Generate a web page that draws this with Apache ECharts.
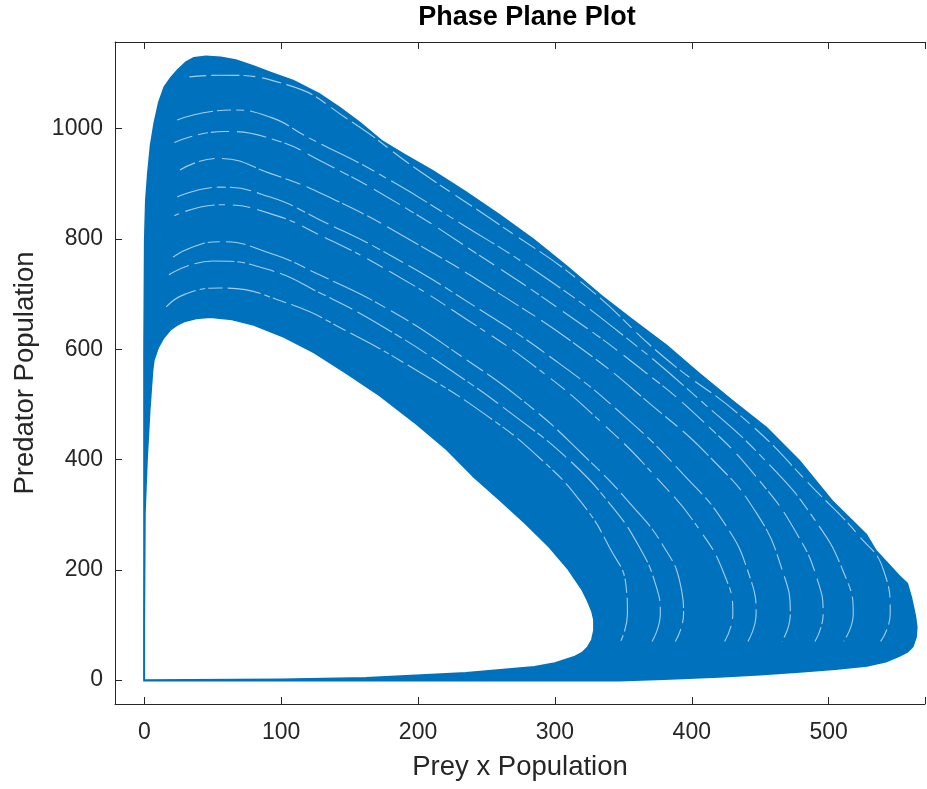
<!DOCTYPE html>
<html>
<head>
<meta charset="utf-8">
<title>Phase Plane Plot</title>
<script src="https://cdn.jsdelivr.net/npm/echarts@6/dist/echarts.min.js"></script>
<style>
html, body { margin: 0; padding: 0; background: #fff; }
#chart { width: 927px; height: 789px; }
</style>
</head>
<body>
<div id="chart"></div>
<script>
// axis ranges and ticks (right edge of the box is cut off)
var xRange = [-21.4, 570.4];
var yRange = [-43.5, 1157.3];
var xTicks = [0, 100, 200, 300, 400, 500];
var yTicks = [0, 200, 400, 600, 800, 1000];

// outside edge of the dense trajectory band (prey, predator)
var outerEdge = [
    [-0.8, -2.5], [200, -2.5], [347, -2.5], [380, 0], [420, 4], [450, 8], [479, 13],
    [505, 18], [528, 24], [542, 32], [552, 42], [558, 50], [562, 60], [564.5, 78],
    [565, 96], [564, 115], [563, 127], [561, 150], [558, 176], [552, 190], [535, 236],
    [528, 265], [503, 326], [479, 399], [455, 459], [430, 508], [406, 557], [382, 608],
    [357, 655], [335, 697], [309, 752], [285, 800], [260, 845], [235, 887], [211, 925],
    [190, 955], [174, 979], [158, 1012], [143, 1040], [128, 1065], [109, 1089], [92, 1104],
    [80, 1115], [67, 1126], [56, 1131], [45, 1133], [36, 1130], [30, 1122], [24, 1108],
    [19, 1094], [14, 1076], [10, 1048], [6.6, 1010], [4, 970], [2, 920], [0.5, 870],
    [-0.3, 798], [-0.8, 600]
];

// innermost orbit (the empty hole)
var innerEdge = [
    [0, 0], [100, 1.5], [162, 4], [235, 13], [285, 24], [300, 31], [314, 42], [320, 50],
    [324, 60], [327, 73], [328.5, 90], [328.5, 109], [327, 125], [324, 143], [320, 163],
    [310, 200], [296, 241], [278, 285], [260, 326], [240, 370], [221, 418], [197, 468],
    [172, 516], [148, 556], [124, 594], [102, 622], [80, 644], [64, 654], [48, 658],
    [38, 656], [30, 651], [24, 644], [19, 635], [14, 620], [10, 602], [7, 580], [6, 560],
    [4, 490], [2, 399], [0.5, 303], [0, 100]
];

// some of the visible gaps between orbits
var orbitA = [[16, 677], [30, 700], [55, 711], [104, 684], [150, 630], [200, 560], [250, 480], [290, 400], [320, 320], [340, 240], [352, 170], [353, 120], [348, 70]];
var orbitB = [[18, 735], [50, 760], [90, 745], [130, 700], [175, 640], [225, 560], [270, 480], [310, 400], [340, 320], [362, 240], [374, 170], [377, 120], [371, 70]];
var orbitC = [[21, 767], [35, 785], [55, 795], [92, 774], [128, 735], [180, 670], [230, 590], [280, 500], [320, 410], [355, 320], [380, 240], [392, 170], [394, 120], [388, 70]];
var orbitI = [[22, 842], [55, 862], [92, 846], [130, 805], [180, 740], [235, 655], [290, 560], [335, 465], [375, 365], [405, 275], [424, 190], [430, 120], [424, 70]];
var orbitD = [[24, 876], [55, 894], [92, 876], [128, 835], [180, 770], [240, 680], [300, 580], [350, 480], [395, 370], [425, 280], [442, 190], [447, 120], [441, 70]];
var orbitE = [[26, 925], [53, 946], [92, 919], [140, 870], [200, 790], [260, 700], [320, 600], [370, 500], [415, 400], [448, 300], [466, 200], [472, 120], [466, 70]];
var orbitF = [[22, 975], [58, 995], [95, 980], [130, 940], [185, 865], [245, 770], [305, 670], [360, 570], [410, 465], [450, 360], [478, 260], [492, 180], [496, 120], [490, 70]];
var orbitG = [[24, 1016], [63, 1034], [92, 1021], [119, 985], [170, 920], [230, 830], [290, 735], [350, 625], [405, 510], [455, 395], [490, 290], [511, 195], [518, 120], [511, 70]];
var orbitH = [[33, 1094], [55, 1097], [104, 1080], [150, 1015], [200, 925], [260, 825], [320, 720], [380, 585], [440, 470], [490, 345], [522, 262], [540, 200], [545, 120], [538, 70]];

var blue = '#0072BD';
var ink = '#262626';

function polygonSeries(name, pts, fill, stroke, z) {
    return {
        name: name,
        type: 'custom',
        xAxisIndex: 0,
        yAxisIndex: 0,
        z: z,
        silent: true,
        data: pts,
        renderItem: function (params, api) {
            if (params.dataIndex !== 0) return null;
            var points = pts.map(function (p) { return api.coord(p); });
            return {
                type: 'polygon',
                shape: { points: points },
                style: { fill: fill, stroke: stroke, lineWidth: stroke ? 1.6 : 0, lineJoin: 'round' }
            };
        }
    };
}

function gapSeries(pts, dash, offset) {
    return {
        type: 'line',
        xAxisIndex: 0,
        yAxisIndex: 0,
        z: 5,
        silent: true,
        data: pts,
        smooth: 0.5,
        symbol: 'none',
        lineStyle: { color: '#ffffff', width: 1.1, opacity: 0.65, type: dash, dashOffset: offset }
    };
}

var mainX = {
    type: 'value', position: 'bottom', min: xRange[0], max: xRange[1],
    name: 'Prey x Population', nameLocation: 'middle', nameGap: 49,
    nameTextStyle: { fontFamily: 'Liberation Sans, Arial', fontSize: 27.5, color: ink },
    axisLine: { onZero: false, lineStyle: { color: ink, width: 1 } },
    axisTick: { inside: true, length: 7, lineStyle: { color: ink } },
    axisLabel: {
        margin: 17, fontFamily: 'Liberation Sans, Arial', fontSize: 23, color: ink,
        formatter: function (v) { return xTicks.indexOf(v) >= 0 ? String(v) : ''; }
    },
    splitLine: { show: false }
};
var mainY = {
    type: 'value', position: 'left', min: yRange[0], max: yRange[1],
    name: 'Predator Population', nameLocation: 'middle', nameGap: 76,
    nameTextStyle: { fontFamily: 'Liberation Sans, Arial', fontSize: 27.5, color: ink },
    axisLine: { onZero: false, lineStyle: { color: ink, width: 1 } },
    axisTick: { inside: true, length: 7, lineStyle: { color: ink } },
    axisLabel: {
        margin: 12, fontFamily: 'Liberation Sans, Arial', fontSize: 23, color: ink,
        formatter: function (v) { return yTicks.indexOf(v) >= 0 ? String(v) : ''; }
    },
    splitLine: { show: false }
};
var topX = {
    type: 'value', position: 'top', min: xRange[0], max: xRange[1],
    axisLine: { onZero: false, lineStyle: { color: ink, width: 1 } },
    axisTick: { inside: true, length: 7, lineStyle: { color: ink } },
    axisLabel: { show: false },
    splitLine: { show: false }
};

var myChart = echarts.init(document.getElementById('chart'));
var option = {
    backgroundColor: '#ffffff',
    animation: false,
    title: {
        text: 'Phase Plane Plot',
        left: 527,
        top: 4,
        padding: 0,
        textAlign: 'center',
        textStyle: { fontFamily: 'Liberation Sans, Arial', fontSize: 27, fontWeight: 'bold', color: '#000' }
    },
    grid: { left: 115, top: 42, width: 810, height: 662, containLabel: false, outerBoundsMode: 'none' },
    xAxis: [mainX, topX],
    yAxis: [mainY],
    series: [
        polygonSeries('band', outerEdge, blue, null, 1),
        polygonSeries('hole', innerEdge, '#ffffff', blue, 2),
        gapSeries(orbitA, [34, 4, 6, 3, 14, 5], 0),
        gapSeries(orbitB, [26, 6, 40, 3, 8, 4], 4),
        gapSeries(orbitC, [44, 3, 12, 6, 20, 5], 9),
        gapSeries(orbitI, [18, 7, 30, 4, 6, 8], 13),
        gapSeries(orbitD, [38, 5, 9, 4, 22, 6], 2),
        gapSeries(orbitE, [24, 4, 16, 7, 36, 3], 7),
        gapSeries(orbitF, [30, 6, 10, 3, 18, 8], 11),
        gapSeries(orbitG, [42, 4, 14, 5, 8, 6], 5),
        gapSeries(orbitH, [20, 5, 28, 4, 12, 7], 3)
    ]
};
myChart.setOption(option);
</script>
</body>
</html>
